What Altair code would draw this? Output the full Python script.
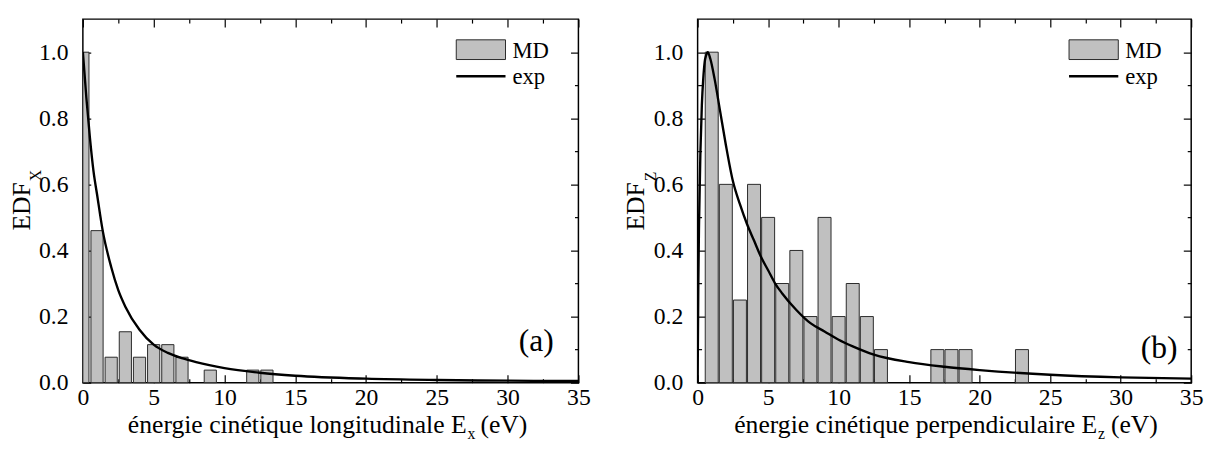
import altair as alt
import pandas as pd

# ---------------- data ----------------
bins_x = list(range(0, 14))
edf_x = [1.0, 0.46, 0.077, 0.154, 0.077, 0.115, 0.115, 0.077, 0.0, 0.038, 0.0, 0.0, 0.038, 0.038]

bins_z = list(range(0, 24))
edf_z = [0.0, 1.0, 0.6, 0.25, 0.6, 0.5, 0.3, 0.4, 0.2, 0.5, 0.2, 0.3, 0.2, 0.1,
         0.0, 0.0, 0.0, 0.1, 0.1, 0.1, 0.0, 0.0, 0.0, 0.1]

exp_x_e = [0, 0.25, 0.5, 0.75, 1.0, 1.4, 2.0, 2.5, 3.0, 4.0, 5.0, 6.0, 7.0, 8.0,
           10, 12.5, 15, 20, 25, 30, 35]
exp_x_v = [1.0, 0.86, 0.74, 0.64, 0.57, 0.46, 0.35, 0.28, 0.23, 0.16, 0.115, 0.09,
           0.074, 0.062, 0.044, 0.03, 0.021, 0.012, 0.008, 0.006, 0.005]

exp_z_e = [0, 0.05, 0.1, 0.2, 0.3, 0.4, 0.5, 0.6, 0.72, 0.9, 1.2, 1.6, 2.0, 2.5, 3.0,
           3.5, 4.0, 4.5, 5.0, 5.5, 6.0, 7.0, 8.0, 9.0, 10, 11, 12.5, 15, 17.5, 20,
           25, 30, 35]
exp_z_v = [0.0, 0.3, 0.48, 0.7, 0.84, 0.92, 0.97, 0.99, 1.0, 0.98, 0.92, 0.82, 0.72,
           0.61, 0.54, 0.48, 0.43, 0.38, 0.34, 0.30, 0.27, 0.22, 0.18, 0.155, 0.13,
           0.11, 0.085, 0.062, 0.048, 0.038, 0.024, 0.016, 0.012]

x_major = [0, 5, 10, 15, 20, 25, 30, 35]
x_minor = [2.5, 7.5, 12.5, 17.5, 22.5, 27.5, 32.5]
y_major = [0.0, 0.2, 0.4, 0.6, 0.8, 1.0]
y_minor = [0.1, 0.3, 0.5, 0.7, 0.9]

FONT = "Liberation Serif, Times New Roman, Times, DejaVu Serif, serif"
H = 369
BAR_FILL = "#c0c0c0"
BAR_STROKE = "#2a2a2a"
TICK_FS = 24
TITLE_FS = 26


def tick_axis(orient, values, size, offset):
    return alt.Axis(orient=orient, values=values, tickSize=size, offset=offset,
                    labels=False, domain=False, grid=False, ticks=True, title=None,
                    tickColor="black", tickWidth=1.2)


def txt(one, s, x, y, size, align="left", baseline="alphabetic", angle=0):
    return alt.Chart(one).mark_text(
        text=s, font=FONT, fontSize=size, align=align, baseline=baseline,
        angle=angle, color="black"
    ).encode(x=alt.value(x), y=alt.value(y))


def panel(bins, vals, ce, cv, half, W, xmain, xsub, ysub, anchor_dx, letter,
          letter_dx, letter_y):
    xs = alt.Scale(domain=[0, 35], nice=False, zero=False)
    ys = alt.Scale(domain=[0, 1.1], nice=False, zero=False)
    bars_df = pd.DataFrame({"e": bins, "v": vals})
    curve_df = pd.DataFrame({"e": ce, "v": cv})
    one = pd.DataFrame({"k": [0]})

    bars = alt.Chart(bars_df).transform_filter("datum.v > 0").transform_calculate(
        x0=f"max(0, datum.e - {half})", x1=f"datum.e + {half}"
    ).mark_rect(fill=BAR_FILL, stroke=BAR_STROKE, strokeWidth=1).encode(
        x=alt.X("x0:Q", scale=xs, axis=alt.Axis(
            orient="bottom", values=x_major, ticks=False, tickSize=0, domain=False,
            grid=False, labelFlush=False, labelPadding=3, labelFontSize=TICK_FS,
            labelFont=FONT, labelColor="black", title=None)),
        x2="x1:Q",
        y=alt.Y("v:Q", scale=ys, axis=alt.Axis(
            orient="left", values=y_major, format=".1f", ticks=False, tickSize=0,
            domain=False, grid=False, labelPadding=15, labelFontSize=TICK_FS,
            labelFont=FONT, labelColor="black", title=None)),
        y2=alt.datum(0),
    )

    curve = alt.Chart(curve_df).mark_line(
        color="black", strokeWidth=2.4, interpolate="monotone", clip=True
    ).encode(
        x=alt.X("e:Q", scale=xs, axis=tick_axis("top", x_major, 8, -H)),
        y=alt.Y("v:Q", scale=ys, axis=tick_axis("right", y_major, 8, -W)),
    )
    inv1 = alt.Chart(curve_df).mark_line(opacity=0).encode(
        x=alt.X("e:Q", scale=xs, axis=tick_axis("top", x_minor, 4, -H)),
        y=alt.Y("v:Q", scale=ys, axis=tick_axis("right", y_minor, 4, -W)),
    )
    inv2 = alt.Chart(curve_df).mark_line(opacity=0).encode(
        x=alt.X("e:Q", scale=xs, axis=tick_axis("bottom", x_major, 8, -H)),
        y=alt.Y("v:Q", scale=ys, axis=tick_axis("left", y_major, 8, -W)),
    )
    inv3 = alt.Chart(curve_df).mark_line(opacity=0).encode(
        x=alt.X("e:Q", scale=xs, axis=tick_axis("bottom", x_minor, 4, -H)),
        y=alt.Y("v:Q", scale=ys, axis=tick_axis("left", y_minor, 4, -W)),
    )

    # legend
    leg_rect = alt.Chart(one).mark_rect(
        fill=BAR_FILL, stroke=BAR_STROKE, strokeWidth=1
    ).encode(x=alt.value(W - 124), x2=alt.value(W - 74),
             y=alt.value(21), y2=alt.value(41))
    leg_line = alt.Chart(one).mark_rule(color="black", strokeWidth=2.4).encode(
        x=alt.value(W - 124), x2=alt.value(W - 74), y=alt.value(58))
    leg_md = txt(one, "MD", W - 67, 39, 23)
    leg_exp = txt(one, "exp", W - 67, 66, 23)

    lab = txt(one, letter, W - letter_dx, letter_y, 32, align="right",
              baseline="middle")

    # x title with subscript
    ax = W / 2 + anchor_dx
    t1 = txt(one, xmain, ax, H + 51, TITLE_FS, align="right")
    t2 = txt(one, xsub, ax + 1, H + 57, 16)
    t3 = txt(one, "(eV)", ax + 14, H + 51, TITLE_FS)

    # y title with subscript
    ya = H / 2 - 19
    y1 = txt(one, "EDF", -54, ya, 26, align="right", angle=270)
    y2 = txt(one, ysub, -42, ya - 1, 16, align="left", angle=270)

    return alt.layer(bars, curve, inv1, inv2, inv3, leg_rect, leg_line, leg_md,
                     leg_exp, lab, t1, t2, t3, y1, y2).properties(width=W, height=H)


left = panel(bins_x, edf_x, exp_x_e, exp_x_v, 0.43, 503,
             "énergie cinétique longitudinale E", "x", "X", 138, "(a)", 25, 327)
right = panel(bins_z, edf_z, exp_z_e, exp_z_v, 0.46, 501,
              "énergie cinétique perpendiculaire E", "z", "Z", 155, "(b)", 14, 334)

chart = alt.hconcat(left, right, spacing=32).configure(
    padding={"left": 0, "top": 6, "right": 0, "bottom": 0},
    font=FONT,
).configure_view(stroke="black", strokeWidth=1.5)

chart.save("out.html", embed_options={"renderer": "svg", "actions": False})
